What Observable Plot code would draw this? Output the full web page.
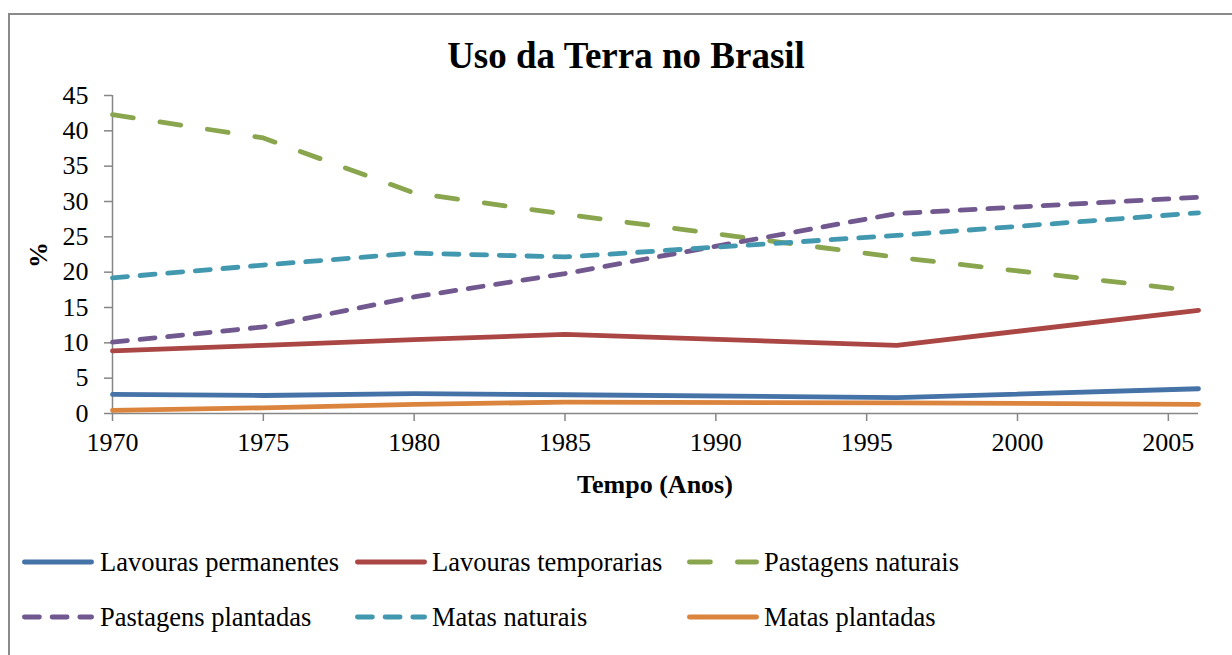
<!DOCTYPE html>
<html>
<head>
<meta charset="utf-8">
<script src="https://cdn.jsdelivr.net/npm/d3@7"></script>
<script src="https://cdn.jsdelivr.net/npm/@observablehq/plot@0.6"></script>
<style>
  html, body { margin: 0; padding: 0; background: #fff; }
  #wrap { position: relative; width: 1232px; height: 655px; overflow: hidden; font-family: "Liberation Serif", "Times New Roman", serif; color: #000; }
  #frame { position: absolute; left: 8px; top: 13px; width: 1300px; height: 700px; border-left: 2px solid #8a8a8a; border-top: 2px solid #8a8a8a; }
  #chart { position: absolute; left: 0; top: 0; }
  .abs { position: absolute; white-space: nowrap; }
  #title { left: 326px; width: 600px; top: 36px; text-align: center; font-weight: bold; font-size: 37px; line-height: 40px; }
  #xlabel { left: 455px; width: 400px; top: 470px; text-align: center; font-weight: bold; font-size: 26px; line-height: 30px; }
  #ylabel { left: 24px; top: 240px; width: 30px; height: 30px; text-align: center; font-weight: bold; font-size: 26px; line-height: 30px; transform: rotate(-90deg); }
  .leg { font-size: 26.5px; line-height: 30px; }
</style>
</head>
<body>
<div id="wrap">
  <div id="frame"></div>
  <div id="chart"></div>
  <div id="title" class="abs">Uso da Terra no Brasil</div>
  <div id="xlabel" class="abs">Tempo (Anos)</div>
  <div id="ylabel" class="abs">%</div>
  <div id="legend"></div>
</div>
<script>
// ---- data ----
const years = [1970, 1975, 1980, 1985, 1996, 2006];
const seriesNames = ["Lavouras permanentes", "Lavouras temporarias", "Pastagens naturais", "Pastagens plantadas", "Matas naturais", "Matas plantadas"];
const lavourasPermanentes = [2.7, 2.55, 2.8, 2.65, 2.25, 3.5];
const lavourasTemporarias = [8.85, 9.65, 10.45, 11.2, 9.65, 14.6];
const pastagensNaturais = [42.3, 39.0, 31.2, 28.2, 22.1, 17.3];
const pastagensPlantadas = [10.1, 12.25, 16.5, 19.8, 28.3, 30.6];
const matasNaturais = [19.2, 21.0, 22.7, 22.15, 25.2, 28.4];
const matasPlantadas = [0.45, 0.8, 1.3, 1.6, 1.5, 1.3];
const xTicks = [1970, 1975, 1980, 1985, 1990, 1995, 2000, 2005];
const yTicks = [0, 5, 10, 15, 20, 25, 30, 35, 40, 45];

const seriesValues = [lavourasPermanentes, lavourasTemporarias, pastagensNaturais, pastagensPlantadas, matasNaturais, matasPlantadas];
const colors = ["#4572A7", "#AA4643", "#89A54E", "#71588F", "#4198AF", "#DB843D"];
const dashes = [null, null, "21,27", "15,12.7", "15,12.7", null];

const rows = seriesNames.map((name, i) => years.map((year, j) => ({ name, year, value: seriesValues[i][j] })));

const lineMarks = rows.map((data, i) => Plot.line(data, {
  x: "year", y: "value",
  stroke: colors[i], strokeWidth: 4.8,
  strokeLinecap: "round", strokeLinejoin: "round",
  strokeDasharray: dashes[i]
}));

const chart = Plot.plot({
  width: 1232,
  height: 500,
  marginLeft: 112,
  marginRight: 34,
  marginTop: 95,
  marginBottom: 87,
  style: { fontFamily: "'Liberation Serif', 'Times New Roman', serif", fontSize: "26px", color: "#000", background: "transparent", overflow: "visible" },
  x: { domain: [1970, 2006], label: null },
  y: { domain: [0, 45], label: null },
  marks: [
    Plot.axisY({ ticks: yTicks, tickSize: 8, tickPadding: 16, stroke: "#868686", strokeWidth: 1.5, fill: "#000", label: null, fontSize: 26 }),
    Plot.axisX({ ticks: xTicks, tickSize: 8, tickPadding: 11, tickFormat: d => String(d), stroke: "#868686", strokeWidth: 1.5, fill: "#000", label: null, fontSize: 26 }),
    Plot.ruleY([0], { stroke: "#868686", strokeWidth: 1.5 }),
    Plot.ruleX([1970], { stroke: "#868686", strokeWidth: 1.5 }),
    ...lineMarks
  ]
});
document.getElementById("chart").appendChild(chart);

// ---- legend ----
const legendPos = [
  { sx: 20, tx: 100, cy: 562 },
  { sx: 353, tx: 432, cy: 562 },
  { sx: 685, tx: 764, cy: 562 },
  { sx: 20, tx: 100, cy: 617 },
  { sx: 353, tx: 432, cy: 617 },
  { sx: 685, tx: 764, cy: 617 }
];
const legend = document.getElementById("legend");
const ns = "http://www.w3.org/2000/svg";
seriesNames.forEach((name, i) => {
  const p = legendPos[i];
  const svg = document.createElementNS(ns, "svg");
  svg.setAttribute("width", 76);
  svg.setAttribute("height", 10);
  svg.style.position = "absolute";
  svg.style.left = p.sx + "px";
  svg.style.top = (p.cy - 5) + "px";
  const ln = document.createElementNS(ns, "line");
  ln.setAttribute("x1", 4.4); ln.setAttribute("x2", 71.6);
  ln.setAttribute("y1", 5); ln.setAttribute("y2", 5);
  ln.setAttribute("stroke", colors[i]);
  ln.setAttribute("stroke-width", 4.8);
  ln.setAttribute("stroke-linecap", "round");
  if (dashes[i]) ln.setAttribute("stroke-dasharray", dashes[i]);
  svg.appendChild(ln);
  legend.appendChild(svg);
  const t = document.createElement("div");
  t.className = "abs leg";
  t.style.left = p.tx + "px";
  t.style.top = (p.cy - 15) + "px";
  t.textContent = name;
  legend.appendChild(t);
});
</script>
</body>
</html>
